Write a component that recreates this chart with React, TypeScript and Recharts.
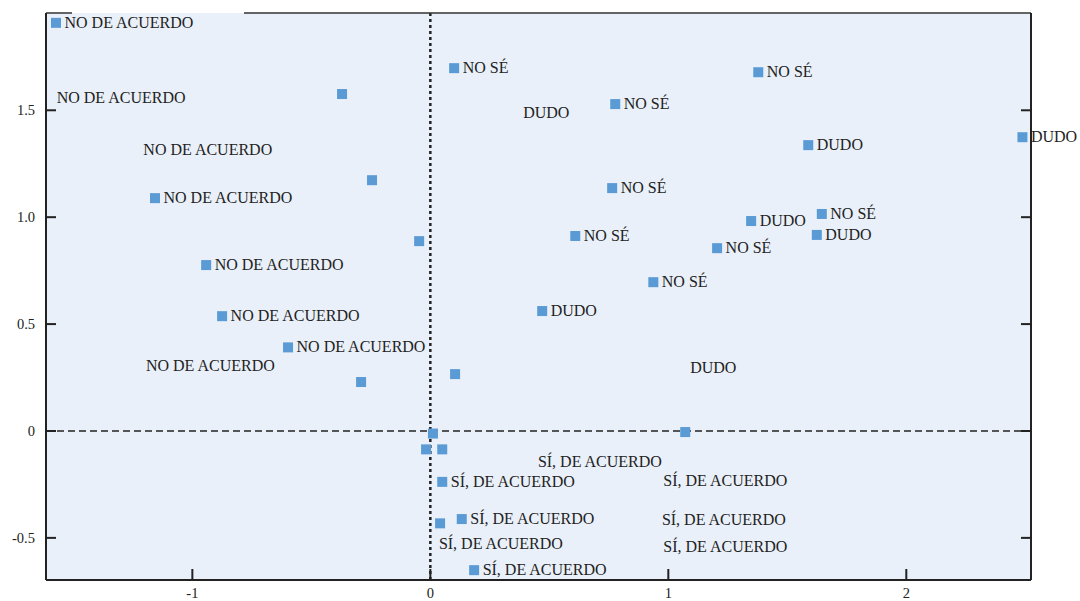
import { ScatterChart, Scatter, XAxis, YAxis, CartesianGrid, ReferenceLine } from 'recharts';

const pointX = [-1.573, -0.371, 0.1, 1.378, 0.777, 2.488, 1.588, -0.245, -1.157, 0.764, 1.348, 1.645, 1.624, 1.205, -0.047, 0.609, -0.942, 0.937, 0.47, -0.875, -0.598, -0.291, 0.104, 0.011, 1.071, -0.018, 0.05, 0.05, 0.132, 0.041, 0.184];
const pointY = [1.909, 1.576, 1.697, 1.678, 1.529, 1.374, 1.337, 1.173, 1.089, 1.136, 0.982, 1.015, 0.917, 0.855, 0.888, 0.912, 0.776, 0.696, 0.561, 0.537, 0.391, 0.229, 0.266, -0.012, -0.005, -0.086, -0.086, -0.238, -0.412, -0.432, -0.651];
const pointLabel = [
  'NO DE ACUERDO', '', 'NO SÉ', 'NO SÉ', 'NO SÉ', 'DUDO', 'DUDO', '', 'NO DE ACUERDO', 'NO SÉ',
  'DUDO', 'NO SÉ', 'DUDO', 'NO SÉ', '', 'NO SÉ', 'NO DE ACUERDO', 'NO SÉ', 'DUDO', 'NO DE ACUERDO',
  'NO DE ACUERDO', '', '', '', '', '', '', 'SÍ, DE ACUERDO', 'SÍ, DE ACUERDO', '', 'SÍ, DE ACUERDO',
];

// labels that sit away from any marker
const freeX = [-1.57, -1.206, -1.195, 0.39, 1.092, 0.452, 0.979, 0.973, 0.036, 0.979];
const freeY = [1.558, 1.314, 0.304, 1.487, 0.294, -0.145, -0.234, -0.417, -0.53, -0.542];
const freeText = [
  'NO DE ACUERDO', 'NO DE ACUERDO', 'NO DE ACUERDO', 'DUDO', 'DUDO',
  'SÍ, DE ACUERDO', 'SÍ, DE ACUERDO', 'SÍ, DE ACUERDO', 'SÍ, DE ACUERDO', 'SÍ, DE ACUERDO',
];

const xTicks = [-1, 0, 1, 2];
const yTicks = [-0.5, 0, 0.5, 1.0, 1.5];
const X_DOMAIN: [number, number] = [-1.615, 2.524];
const Y_DOMAIN: [number, number] = [-0.697, 1.955];

const FONT = 'Liberation Serif, serif';
const INK = '#222';

const points = pointX.map((x, i) => ({ x, y: pointY[i], label: pointLabel[i] }));
const freeLabels = freeX.map((x, i) => ({ x, y: freeY[i], label: freeText[i] }));

function PointShape(props: any) {
  const { cx, cy, payload } = props;
  return (
    <g>
      <rect x={cx - 5} y={cy - 5} width={10} height={10} fill="#5B9BD5" />
      {payload.label && (
        <text x={cx + 8.5} y={cy + 5} style={{ fontFamily: FONT }} fontSize={16} fill={INK}>
          {payload.label}
        </text>
      )}
    </g>
  );
}

function FreeLabel(props: any) {
  const { cx, cy, payload } = props;
  return (
    <text x={cx} y={cy + 5} style={{ fontFamily: FONT }} fontSize={16} fill={INK}>
      {payload.label}
    </text>
  );
}

function LeftTick({ x, y, payload }: any) {
  const v = payload.value;
  const txt = v === 0 ? '0' : v.toFixed(1);
  return (
    <g>
      <line x1={x} x2={x + 10} y1={y} y2={y} stroke={INK} strokeWidth={2} />
      <text x={x - 11} y={y + 5} textAnchor="end" style={{ fontFamily: FONT }} fontSize={14.5} fill={INK}>
        {txt}
      </text>
    </g>
  );
}

function RightTick({ x, y }: any) {
  return <line x1={x - 10} x2={x} y1={y} y2={y} stroke={INK} strokeWidth={2} />;
}

function BottomTick({ x, y, payload }: any) {
  return (
    <g>
      <line x1={x} x2={x} y1={y} y2={y - 11} stroke={INK} strokeWidth={2} />
      <text x={x} y={y + 18} textAnchor="middle" style={{ fontFamily: FONT }} fontSize={14.5} fill={INK}>
        {String(payload.value)}
      </text>
    </g>
  );
}

export default function App() {
  return (
    <div>
      <style>{'body{margin:0}'}</style>
      <ScatterChart width={1080} height={601} margin={{ top: 12, right: 48, bottom: 0, left: 0 }}>
        <CartesianGrid xAxisId="bottom" yAxisId="left" fill="#E9F0F9" horizontal={false} vertical={false} />
        <XAxis
          xAxisId="bottom"
          type="number"
          dataKey="x"
          domain={X_DOMAIN}
          ticks={xTicks}
          height={21}
          tickSize={0}
          tickMargin={0}
          tickLine={false}
          tick={<BottomTick />}
          axisLine={{ stroke: INK, strokeWidth: 2 }}
        />
        <XAxis
          xAxisId="top"
          orientation="top"
          type="number"
          dataKey="x"
          domain={X_DOMAIN}
          height={1}
          tick={false}
          tickLine={false}
          axisLine={{ stroke: '#333', strokeWidth: 1.5, strokeDasharray: '26 172 800' }}
        />
        <YAxis
          yAxisId="left"
          type="number"
          dataKey="y"
          domain={Y_DOMAIN}
          ticks={yTicks}
          width={46}
          tickSize={0}
          tickMargin={0}
          tickLine={false}
          tick={<LeftTick />}
          axisLine={{ stroke: INK, strokeWidth: 2 }}
        />
        <YAxis
          yAxisId="right"
          orientation="right"
          type="number"
          dataKey="y"
          domain={Y_DOMAIN}
          ticks={yTicks}
          width={1}
          tickSize={0}
          tickMargin={0}
          tickLine={false}
          tick={<RightTick />}
          axisLine={{ stroke: INK, strokeWidth: 2 }}
        />
        <ReferenceLine xAxisId="bottom" yAxisId="left" y={0} stroke={INK} strokeWidth={1.5} strokeDasharray="7 4" />
        <ReferenceLine xAxisId="bottom" yAxisId="left" x={0} stroke={INK} strokeWidth={2.5} strokeDasharray="3 3" />
        <Scatter
          xAxisId="top"
          yAxisId="right"
          data={freeLabels}
          shape={<FreeLabel />}
          isAnimationActive={false}
        />
        <Scatter
          xAxisId="bottom"
          yAxisId="left"
          data={points}
          shape={<PointShape />}
          isAnimationActive={false}
        />
      </ScatterChart>
    </div>
  );
}
